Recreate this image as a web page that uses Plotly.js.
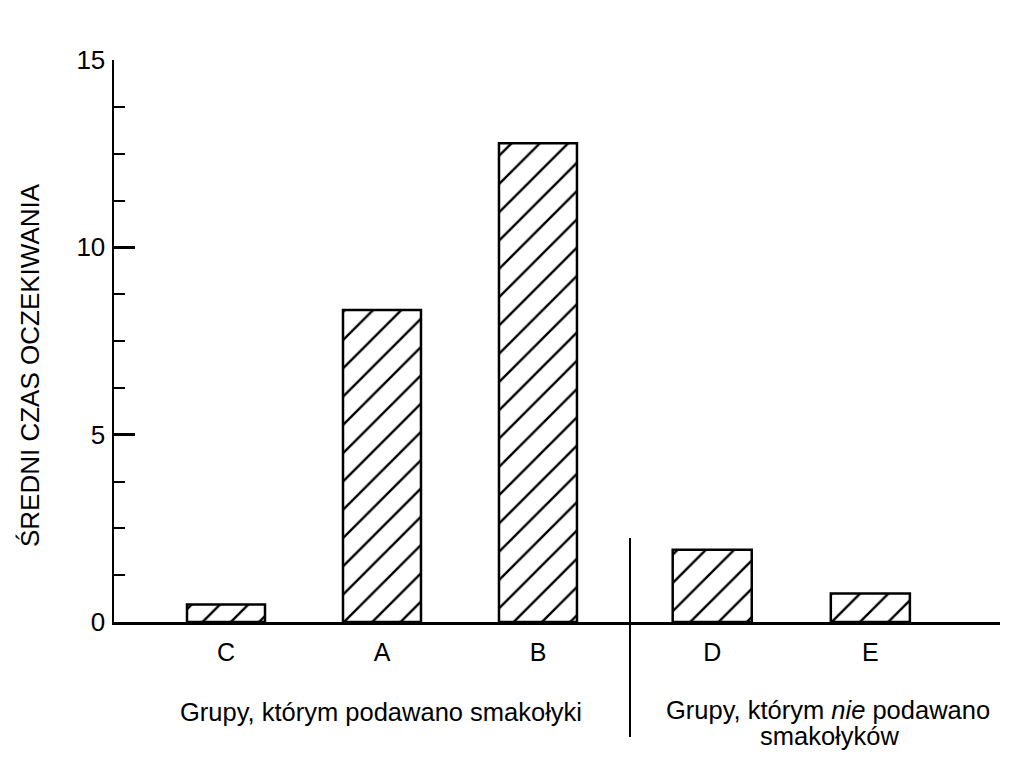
<!DOCTYPE html>
<html>
<head>
<meta charset="utf-8">
<script src="https://cdn.plot.ly/plotly-3.0.1.min.js"></script>
<style>
  html, body { margin: 0; padding: 0; background: #fff; }
  #chart { width: 1024px; height: 764px; }
</style>
</head>
<body>
<div id="chart"></div>
<script>
// groups that got treats / groups that did not
var treat_groups = ['C', 'A', 'B'];
var treat_values = [0.47, 8.33, 12.78];
var notreat_groups = ['D', 'E'];
var notreat_values = [1.93, 0.76];

var y_ticks = [0, 5, 10, 15];
var y_title = 'ŚREDNI CZAS OCZEKIWANIA';
var treat_label = 'Grupy, którym podawano smakołyki';
var notreat_label_1 = 'Grupy, którym <i>nie</i> podawano';
var notreat_label_2 = 'smakołyków';

var font_family = '"Liberation Sans", Arial, Helvetica, sans-serif';
var split = 0.5824;

function hatched_bar(x, y, xaxis) {
    return {
        type: 'bar',
        x: x,
        y: y,
        xaxis: xaxis,
        yaxis: 'y',
        width: 0.5,
        marker: {
            color: 'white',
            line: { color: 'black', width: 2.5 },
            pattern: {
                shape: '/',
                fgcolor: 'black',
                bgcolor: 'white',
                size: 20,
                solidity: 0.12
            }
        },
        hoverinfo: 'skip',
        showlegend: false
    };
}

var data = [
    hatched_bar(treat_groups, treat_values, 'x'),
    hatched_bar(notreat_groups, notreat_values, 'x2')
];

var xaxis_common = {
    type: 'category',
    showline: true,
    linecolor: 'black',
    linewidth: 2.5,
    showgrid: false,
    zeroline: false,
    ticks: '',
    ticklabelstandoff: 6,
    tickfont: { family: font_family, size: 25, color: 'black' },
    fixedrange: true
};

function label(text, x, y, angle) {
    return {
        text: text,
        xref: 'paper', yref: 'paper',
        x: x, y: y,
        xanchor: 'center', yanchor: 'middle',
        textangle: angle || 0,
        showarrow: false,
        font: { family: font_family, size: 25.5, color: 'black' }
    };
}

var title_label = label(y_title, -0.095, 0.457, -90);
title_label.font.size = 26;

var layout = {
    width: 1024,
    height: 764,
    margin: { l: 114, r: 24, t: 60, b: 142 },
    paper_bgcolor: 'white',
    plot_bgcolor: 'white',
    font: { family: font_family, color: 'black' },
    showlegend: false,
    xaxis: Object.assign({}, xaxis_common, {
        domain: [0, split],
        range: [-0.718, 2.59],
        anchor: 'y'
    }),
    xaxis2: Object.assign({}, xaxis_common, {
        domain: [split, 1],
        range: [-0.52, 1.82],
        anchor: 'y'
    }),
    yaxis: {
        range: [0, 15],
        tickvals: y_ticks,
        ticks: 'inside',
        ticklen: 21,
        tickwidth: 2.5,
        tickcolor: 'black',
        minor: { dtick: 1.25, ticks: 'inside', ticklen: 11, tickwidth: 2, tickcolor: 'black' },
        showline: true,
        linecolor: 'black',
        linewidth: 2.5,
        showgrid: false,
        zeroline: false,
        ticklabelstandoff: 1,
        tickfont: { family: font_family, size: 26, color: 'black' },
        fixedrange: true
    },
    shapes: [{
        type: 'line',
        xref: 'paper', yref: 'paper',
        x0: split, x1: split,
        y0: 0.1495, y1: -0.2046,
        line: { color: 'black', width: 2 }
    }],
    annotations: [
        title_label,
        label(treat_label, 0.301, -0.160),
        label(notreat_label_1, 0.806, -0.157),
        label(notreat_label_2, 0.808, -0.202)
    ]
};

var config = { displayModeBar: false, staticPlot: true };
Plotly.newPlot('chart', data, layout, config);
</script>
</body>
</html>
